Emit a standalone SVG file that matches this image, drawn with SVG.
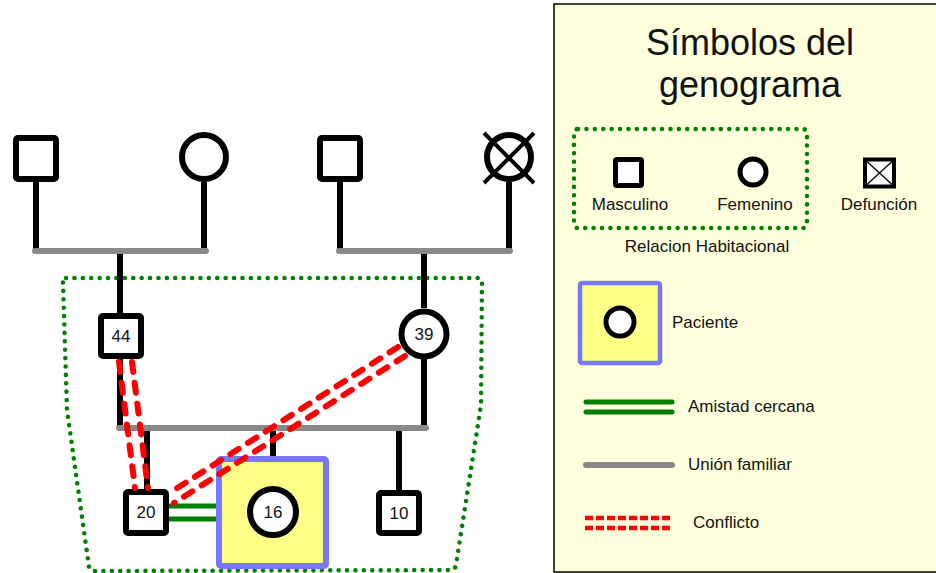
<svg xmlns="http://www.w3.org/2000/svg" width="936" height="573" viewBox="0 0 936 573">
<style>
.sym{fill:#fff;stroke:#000;stroke-width:6}
.ln{stroke:#000;stroke-width:6;fill:none}
.un{stroke:#888;stroke-width:6;stroke-linecap:round;fill:none}
.cf{stroke:#f00;stroke-width:6;stroke-dasharray:10 11;stroke-linecap:round;fill:none}
.fr{stroke:#008000;stroke-width:5;fill:none}
.dot{stroke:#008000;stroke-width:4.5;stroke-dasharray:0.1 8.3;stroke-linecap:round;fill:none}
.pt{fill:#ffff88;stroke:#7777ff;stroke-width:6}
.num{font-family:"Liberation Sans",Arial,sans-serif;font-size:17px;text-anchor:middle;fill:#111}
.lg{font-family:"Liberation Sans",Arial,sans-serif;font-size:17px;fill:#111}
.ttl{font-family:"Liberation Sans",Arial,sans-serif;font-size:36px;text-anchor:middle;fill:#111}
</style>
<rect x="0" y="0" width="936" height="573" fill="#fff"/>

<g id="legend">
<rect x="554" y="4" width="390" height="568" fill="#ffffdd" stroke="#000" stroke-width="1.5"/>
<text class="ttl" x="750" y="55">Símbolos del</text>
<text class="ttl" x="750" y="97">genograma</text>
<rect class="dot" x="574" y="129" width="233" height="99" rx="4"/>
<rect x="615.5" y="159.5" width="26" height="26" rx="1.5" fill="#fff" stroke="#000" stroke-width="5"/>
<circle cx="753" cy="172" r="13" fill="#fff" stroke="#000" stroke-width="5"/>
<rect x="865" y="159.5" width="29" height="27" fill="#fff" stroke="#000" stroke-width="4"/>
<path d="M867,161.5 L892,184.5 M892,161.5 L867,184.5" stroke="#000" stroke-width="1.3"/>
<text class="lg" x="630" y="210" text-anchor="middle">Masculino</text>
<text class="lg" x="755" y="210" text-anchor="middle">Femenino</text>
<text class="lg" x="879" y="210" text-anchor="middle">Defunción</text>
<text class="lg" x="707" y="252" text-anchor="middle" font-size="16">Relacion Habitacional</text>
<rect x="580" y="283" width="80" height="80" rx="2" fill="#ffff88" stroke="#7777ff" stroke-width="4.5"/>
<circle cx="620" cy="322" r="14" fill="#fff" stroke="#000" stroke-width="5"/>
<text class="lg" x="672" y="328">Paciente</text>
<path class="fr" d="M586,402 H672 M586,412 H672" stroke-linecap="round"/>
<text class="lg" x="688" y="412">Amistad cercana</text>
<path class="un" d="M586,465 H672" stroke-width="5"/>
<text class="lg" x="688" y="470">Unión familiar</text>
<path d="M585,518 H673 M585,528 H673" stroke="#f00" stroke-width="4.5" stroke-dasharray="8 3" fill="none"/>
<text class="lg" x="693" y="528">Conflicto</text>
</g>

<g id="household">
<path class="dot" d="M66,278 L478,278 Q482,278 482,282 L481,405 L456,565 Q455,570 451,570 L94,571 Q90,571 89,567 L67,410 L63,282 Q63,278 66,278 Z"/>
</g>

<g id="connectors">
<path class="ln" d="M36,182 V252 M204,182 V252 M340,182 V252 M509,182 V252 M120,252 V313 M424,252 V308 M120,359 V428 M424,359 V428 M147,428 V489 M273,428 V456 M399,428 V490"/>
<path class="un" d="M35,251 H206 M339,251 H510 M119,428 H426"/>
<path class="fr" d="M169,506 H216 M169,519 H216"/>
</g>

<g id="gf1"><rect class="sym" x="16" y="138" width="40" height="41" rx="2"/></g>
<g id="gm1"><circle class="sym" cx="204" cy="157" r="22"/></g>
<g id="gf2"><rect class="sym" x="320" y="138" width="40" height="41" rx="2"/></g>
<g id="gm2"><circle class="sym" cx="509" cy="157" r="22"/>
<path d="M484,133 L534,183 M534,133 L484,183" stroke="#000" stroke-width="4"/></g>

<g id="n44"><rect class="sym" x="101" y="316" width="40" height="40" rx="2"/><text class="num" x="121" y="342">44</text></g>
<g id="n39"><circle class="sym" cx="424" cy="334" r="22.5"/><text class="num" x="424" y="340">39</text></g>
<g id="n20"><rect class="sym" x="126" y="492" width="40" height="41" rx="2"/><text class="num" x="146" y="518">20</text></g>
<g id="n16"><rect class="pt" x="219" y="459" width="107" height="107" rx="2"/><circle class="sym" cx="273" cy="512" r="23"/><text class="num" x="273" y="518">16</text></g>
<g id="n10"><rect class="sym" x="379" y="493" width="40" height="40" rx="2"/><text class="num" x="399" y="519">10</text></g>

<g id="conflicts">
<path class="cf" d="M119,362 L135,488 M132,362 L148,488"/>
<path class="cf" d="M398,347 L168,494 M405,356 L174,503"/>
</g>
</svg>
